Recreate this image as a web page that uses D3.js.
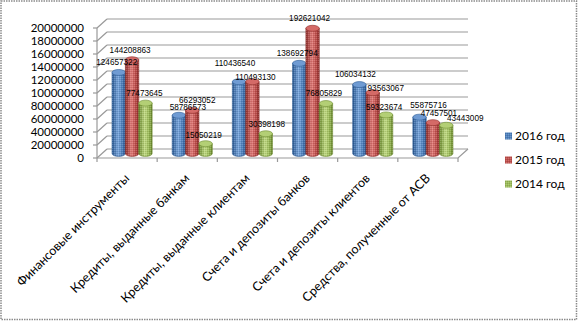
<!DOCTYPE html>
<html><head><meta charset="utf-8">
<script src="https://cdn.jsdelivr.net/npm/d3@7"></script>
<style>body{margin:0;background:#fff}svg{display:block}</style>
</head><body><svg id="c" width="578" height="321"></svg>
<script>
const categories = ["Финансовые инструменты","Кредиты, выданные банкам","Кредиты, выданные клиентам","Счета и депозиты банков","Счета и депозиты клиентов","Средства, полученные от АСВ"];
const seriesNames = ["2016 год","2015 год","2014 год"];
const values2016 = [124657322, 58786573, 110436540, 138692794, 106034132, 55875716];
const values2015 = [144208863, 66293052, 110493130, 192621042, 93563067, 47457501];
const values2014 = [77473645, 15050219, 30398198, 76805829, 59323674, 43443009];
const tickValues = [0,20000000,40000000,60000000,80000000,100000000,120000000,140000000,160000000,180000000,200000000];
const tickLabels = ["0","20000000","40000000","60000000","80000000","10000000","12000000","14000000","16000000","18000000","20000000"];

// label placement nudges (style only): [dx, dy from bar top] per category, per series
const labelNudge = [
  [[-2,-10],[-2,-10],[-1,-10]],
  [[9,-8],[5,-10],[-2,-9]],
  [[-4,-19],[3,-5],[1,-10]],
  [[-2,-10],[-3,-10],[-2,-10]],
  [[-4,-10],[13,-5],[-2,-8]],
  [[9,-12],[6,-10],[19,-7]]
];

const seriesValues = [values2016, values2015, values2014];
const colors = [
  {dark:"#2b5a94", mid:"#4f81bd", light:"#7aa7dd", top:"#6f9bd3"},
  {dark:"#8c2b29", mid:"#c0504d", light:"#e27d7a", top:"#d46a67"},
  {dark:"#6b8a2f", mid:"#9bbb59", light:"#c3dc86", top:"#b3cf75"}
];

const svg = d3.select("#c");
const defs = svg.append("defs");
colors.forEach((c,i)=>{
  const g = defs.append("linearGradient").attr("id","g"+i).attr("x1","0").attr("x2","1").attr("y1","0").attr("y2","0");
  g.append("stop").attr("offset","0").attr("stop-color",c.dark);
  g.append("stop").attr("offset","0.45").attr("stop-color",c.light);
  g.append("stop").attr("offset","0.75").attr("stop-color",c.mid);
  g.append("stop").attr("offset","1").attr("stop-color",c.dark);
});
const pat = defs.append("pattern").attr("id","dots").attr("width",2).attr("height",2).attr("patternUnits","userSpaceOnUse");
pat.append("rect").attr("width",1).attr("height",1).attr("fill","#fff").attr("opacity",0.18);
pat.append("rect").attr("x",1).attr("y",1).attr("width",1).attr("height",1).attr("fill","#000").attr("opacity",0.12);

svg.append("rect").attr("x",1).attr("y",1).attr("width",575.5).attr("height",318.5)
  .attr("fill","none").attr("stroke","#8a8a8a").attr("stroke-width",1.5).attr("stroke-dasharray","1.5,1");

const DX = 10, DY = -9;
const y = d3.scaleLinear().domain([0,200000000]).range([158,28]);
const x = d3.scaleBand().domain(categories).range([97,458]).paddingInner(1/3).paddingOuter(1/6);
const xs = d3.scaleBand().domain(seriesNames).range([0,x.bandwidth()]);

const grid = svg.append("g").attr("stroke","#999").attr("stroke-width",1.2).attr("fill","none");
tickValues.forEach(v=>{
  grid.append("line").attr("x1",97+DX).attr("x2",458+DX).attr("y1",y(v)+DY).attr("y2",y(v)+DY);
  grid.append("line").attr("x1",97).attr("x2",97+DX).attr("y1",y(v)).attr("y2",y(v)+DY);
});
grid.append("path").attr("d",`M97,${y(0)}L458,${y(0)}L${458+DX},${y(0)+DY}`);
grid.append("line").attr("x1",97).attr("x2",97).attr("y1",y(0)).attr("y2",y(200000000));
tickValues.forEach(v=>{
  grid.append("line").attr("x1",93).attr("x2",97).attr("y1",y(v)).attr("y2",y(v));
});
const step = x.step();
d3.range(categories.length+1).forEach(i=>{
  const bx = 97 + i*step;
  grid.append("line").attr("x1",bx).attr("x2",bx).attr("y1",y(0)).attr("y2",y(0)+4);
});

svg.append("g").selectAll("text").data(tickValues).join("text")
  .attr("x",84).attr("y",d=>y(d)).attr("dy","0.35em").attr("text-anchor","end")
  .attr("font-family","Lato, 'Open Sans', sans-serif").attr("font-size",11.5).attr("fill","#000")
  .text((d,i)=>tickLabels[i]);

const ry = 3;
const bars = svg.append("g");
const labelData = [];
categories.forEach((cat,ci)=>{
  seriesNames.forEach((s,si)=>{
    const v = seriesValues[si][ci];
    const x0 = x(cat) + xs(s) + DX/2;
    const w = xs.bandwidth();
    const yb = y(0) + DY/2;
    const yt = y(v) + DY/2;
    const g = bars.append("g");
    const c = colors[si];
    const body = `M${x0},${yt}L${x0},${yb}A${w/2},${ry} 0 0 0 ${x0+w},${yb}L${x0+w},${yt}Z`;
    g.append("path").attr("d",body).attr("fill",`url(#g${si})`).attr("stroke",c.dark).attr("stroke-width",0.6);
    g.append("path").attr("d",body).attr("fill","url(#dots)");
    g.append("ellipse").attr("cx",x0+w/2).attr("cy",yt).attr("rx",w/2).attr("ry",ry)
      .attr("fill",c.top).attr("stroke",c.dark).attr("stroke-width",0.6);
    const n = labelNudge[ci][si];
    labelData.push({v, lx:x0+w/2+n[0], ly:yt+n[1]});
  });
});

svg.append("g").selectAll("text").data(labelData).join("text")
  .attr("x",d=>d.lx).attr("y",d=>d.ly).attr("dy","0.35em").attr("text-anchor","middle")
  .attr("font-family","'Liberation Sans', Arial, sans-serif").attr("font-size",8.2).attr("fill","#000")
  .text(d=>d.v);

svg.append("g").selectAll("text").data(categories).join("text")
  .attr("transform",d=>`translate(${x(d)+x.bandwidth()/2+3},179) rotate(-45)`)
  .attr("text-anchor","end")
  .attr("font-family","Lato, 'Open Sans', sans-serif").attr("font-size",12.5).attr("fill","#000")
  .text(d=>d);

const lg = svg.append("g").attr("font-family","Lato, 'Open Sans', sans-serif").attr("font-size",12);
seriesNames.forEach((s,i)=>{
  const ly = 136 + i*24;
  lg.append("rect").attr("x",505).attr("y",ly-3.5).attr("width",7).attr("height",7).attr("fill",colors[i].mid);
  lg.append("rect").attr("x",505).attr("y",ly-3.5).attr("width",7).attr("height",7).attr("fill","url(#dots)");
  lg.append("text").attr("x",515).attr("y",ly).attr("dy","0.35em").text(s);
});
</script></body></html>
